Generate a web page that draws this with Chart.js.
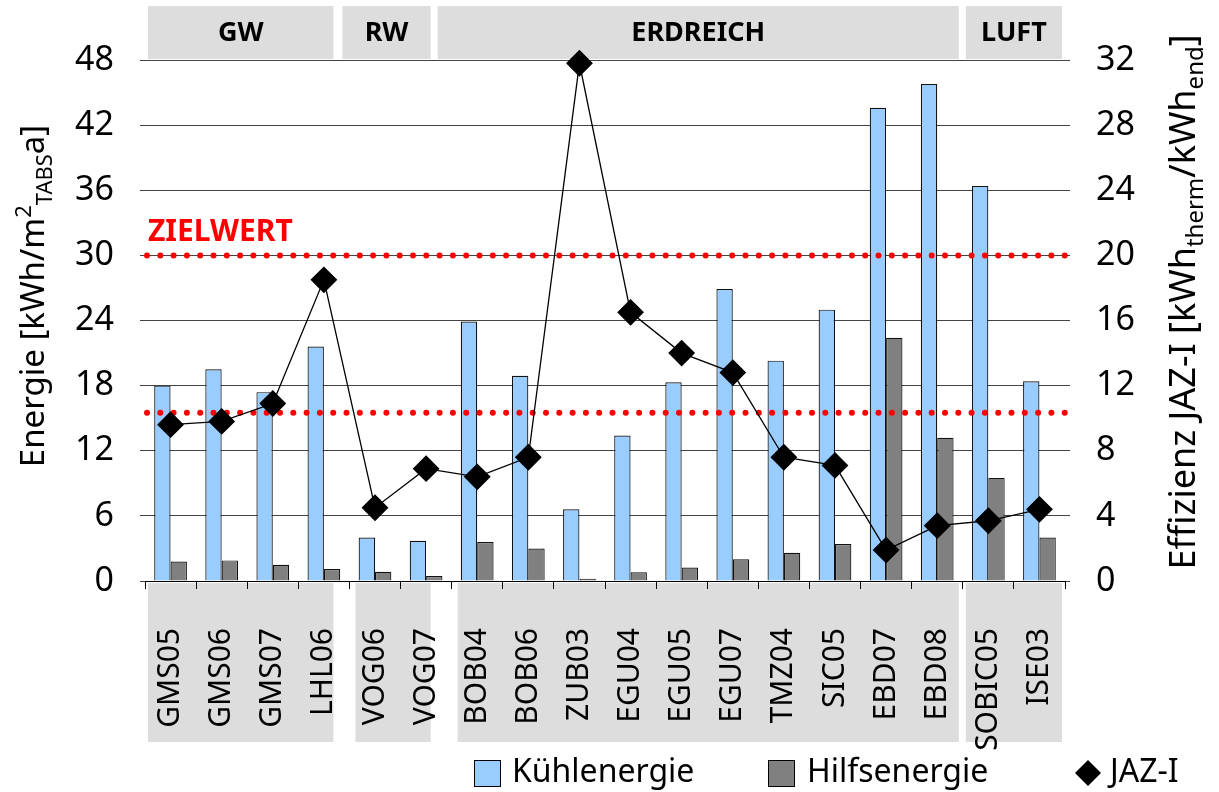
<!DOCTYPE html>
<html>
<head>
<meta charset="utf-8">
<script src="https://cdn.jsdelivr.net/npm/chart.js@4"></script>
<style>
  body { margin: 0; background: #fff; }
  #wrap { width: 1219px; height: 792px; }
</style>
</head>
<body>
<div id="wrap"><canvas id="myChart"></canvas></div>
<script>
// data
var categories = ['GMS05','GMS06','GMS07','LHL06','VOG06','VOG07','BOB04','BOB06','ZUB03','EGU04','EGU05','EGU07','TMZ04','SIC05','EBD07','EBD08','SOBIC05','ISE03'];
var kuehlenergie = [18.0, 19.5, 17.4, 21.6, 4.0, 3.7, 23.9, 18.9, 6.6, 13.4, 18.3, 26.9, 20.3, 25.0, 43.6, 45.8, 36.4, 18.4];
var hilfsenergie = [1.8, 1.9, 1.5, 1.1, 0.85, 0.45, 3.6, 3.0, 0.2, 0.8, 1.25, 2.0, 2.6, 3.4, 22.4, 13.2, 9.5, 4.0];
var jazI = [9.6, 9.8, 10.9, 18.5, 4.5, 6.9, 6.4, 7.6, 31.8, 16.5, 14.0, 12.8, 7.6, 7.1, 1.9, 3.4, 3.7, 4.4];
var groupNames = ['GW', 'RW', 'ERDREICH', 'LUFT'];
var groupSizes = [4, 2, 10, 2];
var zielwerte = [30, 15.5];   // left axis values of the dotted red lines

var FONT = "'Noto Sans', sans-serif";
Chart.defaults.font.family = FONT;
Chart.defaults.color = '#000';

// box insets per group [left, right] in px
var insetBottom = [[3, 16], [6, 21], [6, 4], [3, 3]];
var insetTop = [[3, 16], [-7, 21], [-14, 4], [3, 3]];

function richText(ctx, parts, cx, cy, size) {
  var big = size + "px " + FONT, small = Math.round(size * 0.66) + "px " + FONT;
  var w = 0;
  parts.forEach(function(p) {
    ctx.font = p[1] ? small : big;
    w += ctx.measureText(p[0]).width;
  });
  ctx.save();
  ctx.translate(cx, cy);
  ctx.rotate(-Math.PI / 2);
  ctx.fillStyle = '#000';
  ctx.textBaseline = 'alphabetic';
  ctx.textAlign = 'left';
  var x = -w / 2;
  parts.forEach(function(p) {
    ctx.font = p[1] ? small : big;
    var dy = p[1] === 'sup' ? -size * 0.4 : (p[1] === 'sub' ? size * 0.23 : 0);
    ctx.fillText(p[0], x, dy);
    x += ctx.measureText(p[0]).width;
  });
  ctx.restore();
}

var deco = {
  id: 'deco',
  beforeDraw: function(chart) {
    var ctx = chart.ctx, x = chart.scales.x;
    var step = x.width / categories.length;
    var start = 0;
    ctx.save();
    ctx.font = "bold 27px " + FONT;
    groupSizes.forEach(function(n, g) {
      var l = x.left + start * step, r = x.left + (start + n) * step;
      ctx.fillStyle = '#dddddd';
      ctx.fillRect(l + insetBottom[g][0], 583, r - l - insetBottom[g][0] - insetBottom[g][1], 159);
      var tl = l + insetTop[g][0], tr = r - insetTop[g][1];
      ctx.fillRect(tl, 6, tr - tl, 53);
      ctx.fillStyle = '#000';
      ctx.textAlign = 'center';
      ctx.textBaseline = 'middle';
      ctx.fillText(groupNames[g], (tl + tr) / 2, 33);
      start += n;
    });
    ctx.restore();
  },
  beforeDatasetDraw: function(chart, args) {
    if (args.index !== 2) return;
    var ctx = chart.ctx, y = chart.scales.y, a = chart.chartArea;
    ctx.save();
    ctx.strokeStyle = '#ff0000';
    ctx.lineWidth = 6;
    ctx.lineCap = 'round';
    ctx.setLineDash([0, 13.3]);
    zielwerte.forEach(function(v) {
      var py = y.getPixelForValue(v);
      ctx.beginPath();
      ctx.moveTo(a.left + 2, py);
      ctx.lineTo(a.right + 4, py);
      ctx.stroke();
    });
    ctx.setLineDash([]);
    ctx.fillStyle = '#ff0000';
    ctx.font = "bold 30px " + FONT;
    ctx.textAlign = 'left';
    ctx.textBaseline = 'alphabetic';
    ctx.fillText('ZIELWERT', a.left + 3, y.getPixelForValue(zielwerte[0]) - 14);
    ctx.restore();
  },
  afterDraw: function(chart) {
    var ctx = chart.ctx;
    richText(ctx, [['Energie [kWh/m'], ['2', 'sup'], ['TABS', 'sub'], ['a]']], 44, 296, 33);
    richText(ctx, [['Effizienz JAZ-I [kWh'], ['therm', 'sub'], ['/kWh'], ['end', 'sub'], [']']], 1195, 302, 36);

    // legend
    ctx.save();
    ctx.font = "32px " + FONT;
    ctx.textBaseline = 'middle';
    ctx.textAlign = 'left';
    ctx.lineWidth = 1;
    ctx.strokeStyle = '#000';
    ctx.fillStyle = '#99ccff';
    ctx.fillRect(474.5, 760.5, 26, 26); ctx.strokeRect(474.5, 760.5, 26, 26);
    ctx.fillStyle = '#808080';
    ctx.fillRect(768.5, 760.5, 26, 26); ctx.strokeRect(768.5, 760.5, 26, 26);
    ctx.fillStyle = '#000';
    ctx.beginPath();
    ctx.moveTo(1088, 760); ctx.lineTo(1101, 773); ctx.lineTo(1088, 786); ctx.lineTo(1075, 773);
    ctx.closePath(); ctx.fill();
    ctx.fillText('Kühlenergie', 512, 773);
    ctx.fillText('Hilfsenergie', 807, 773);
    ctx.fillText('JAZ-I', 1110, 773);
    ctx.restore();
  }
};

var ctx = document.getElementById('myChart').getContext('2d');
var myChart = new Chart(ctx, {
  type: 'bar',
  data: {
    labels: categories,
    datasets: [{
      label: 'Kühlenergie',
      data: kuehlenergie,
      backgroundColor: '#99ccff',
      borderColor: '#111',
      borderWidth: 1.2,
      yAxisID: 'y',
      order: 1
    }, {
      label: 'Hilfsenergie',
      data: hilfsenergie,
      backgroundColor: '#808080',
      borderColor: '#111',
      borderWidth: 1.2,
      yAxisID: 'y',
      order: 1
    }, {
      type: 'line',
      label: 'JAZ-I',
      data: jazI,
      borderColor: '#000',
      borderWidth: 1.3,
      pointStyle: 'rectRot',
      pointRadius: 12.5,
      pointBackgroundColor: '#000',
      pointBorderColor: '#000',
      yAxisID: 'y1',
      clip: false,
      order: 0
    }]
  },
  options: {
    responsive: true,
    maintainAspectRatio: false,
    animation: false,
    categoryPercentage: 0.64,
    barPercentage: 1,
    layout: { padding: { top: 60, left: 0, right: 0, bottom: 0 } },
    plugins: {
      legend: { display: false },
      tooltip: { enabled: false }
    },
    scales: {
      x: {
        afterFit: function(s) { s.height = 211; },
        border: { display: true, color: '#000', width: 1 },
        grid: { offset: true, drawOnChartArea: false, color: '#000', tickLength: 8 },
        ticks: { minRotation: 90, maxRotation: 90, autoSkip: false, padding: 39, font: { size: 30 } }
      },
      y: {
        position: 'left',
        min: 0, max: 48,
        afterFit: function(s) { s.width = 145; },
        border: { display: false },
        grid: { color: '#444', tickLength: 5 },
        ticks: { stepSize: 6, padding: 26, font: { size: 34 } }
      },
      y1: {
        position: 'right',
        min: 0, max: 32,
        afterFit: function(s) { s.width = 154; },
        border: { display: false },
        grid: { drawOnChartArea: false, color: '#444', tickLength: 5 },
        ticks: { stepSize: 4, padding: 26, font: { size: 34 } }
      }
    }
  },
  plugins: [deco]
});
</script>
</body>
</html>
